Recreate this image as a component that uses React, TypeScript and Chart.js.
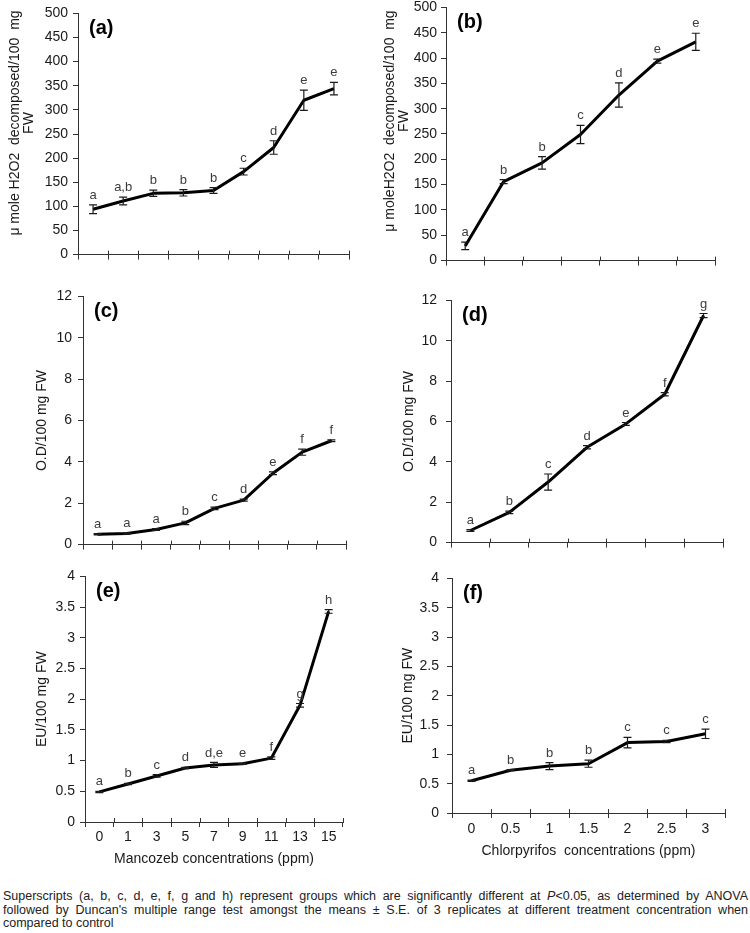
import React, { useEffect, useRef } from "react";
import { Chart, registerables } from "chart.js";

Chart.register(...registerables);

const FONT = '"Liberation Sans", Arial, Helvetica, sans-serif';

// ---- categories ----
const mancozebConc = ["0", "1", "3", "5", "7", "9", "11", "13", "15"];
const chlorpyrifosConc = ["0", "0.5", "1", "1.5", "2", "2.5", "3"];

// ---- (a) catalase, mancozeb ----
const catMancozeb = [94, 111, 127, 128, 133, 172, 222, 320, 344];
const catMancozebSE = [9, 8, 6.5, 6.5, 6, 7, 14, 21, 13];
const catMancozebGroups = ["a", "a,b", "b", "b", "b", "c", "d", "e", "e"];

// ---- (b) catalase, chlorpyrifos ----
const catChlor = [29, 156, 193, 249, 327, 394, 432];
const catChlorSE = [7.5, 4, 12.5, 18, 24, 4, 17];
const catChlorGroups = ["a", "b", "b", "c", "d", "e", "e"];

// ---- (c) O.D, mancozeb ----
const odMancozeb = [0.5, 0.54, 0.73, 1.05, 1.75, 2.15, 3.45, 4.47, 5.02];
const odMancozebSE = [0.03, 0.03, 0.04, 0.08, 0.06, 0.05, 0.07, 0.15, 0.04];
const odMancozebGroups = ["a", "a", "a", "b", "c", "d", "e", "f", "f"];

// ---- (d) O.D, chlorpyrifos ----
const odChlor = [0.6, 1.5, 3.0, 4.72, 5.88, 7.35, 11.25];
const odChlor_SE = [0.04, 0.06, 0.4, 0.08, 0.07, 0.08, 0.1];
const odChlorGroups = ["a", "b", "c", "d", "e", "f", "g"];

// ---- (e) EU, mancozeb ----
const euMancozeb = [0.49, 0.62, 0.75, 0.88, 0.93, 0.95, 1.04, 1.9, 3.43];
const euMancozebSE = [0.01, 0.01, 0.02, 0.01, 0.04, 0.01, 0.02, 0.03, 0.03];
const euMancozebGroups = ["a", "b", "c", "d", "d,e", "e", "f", "g", "h"];

// ---- (f) EU, chlorpyrifos ----
const euChlor = [0.55, 0.73, 0.8, 0.84, 1.2, 1.22, 1.35];
const euChlorSE = [0.01, 0.01, 0.06, 0.06, 0.09, 0.02, 0.08];
const euChlorGroups = ["a", "b", "b", "b", "c", "c", "c"];

// ---- axis ranges / titles ----
const catTicks = { min: 0, max: 500, step: 50 };
const odTicks = { min: 0, max: 12, step: 2 };
const euTicks = { min: 0, max: 4, step: 0.5 };

const titleA = ["μ mole H2O2  decomposed/100  mg", "FW"];
const titleB = ["μ moleH2O2  decomposed/100  mg", "FW"];
const titleOD = ["O.D/100 mg FW"];
const titleEU = ["EU/100 mg FW"];
const xTitleMancozeb = "Mancozeb concentrations (ppm)";
const xTitleChlor = "Chlorpyrifos  concentrations (ppm)";

type Panel = {
  key: string;
  left: number;
  top: number;
  width: number;
  height: number;
  axisW: number;
  axisH: number;
  labels: string[];
  values: number[];
  se: number[];
  groups: string[];
  range: { min: number; max: number; step: number };
  yTitle: string[];
  yTitleX: number;
  yTitleDy: number;
  yTickPad: number;
  showX: boolean;
  xTitle?: string;
  xTickPad?: number;
  panel: string;
};

const panels: Panel[] = [
  {
    key: "a", left: 0, top: 0, width: 359, height: 268, axisW: 78, axisH: 10,
    labels: mancozebConc, values: catMancozeb, se: catMancozebSE, groups: catMancozebGroups,
    range: catTicks, yTitle: titleA, yTitleX: 15, yTitleDy: -11, yTickPad: 5, showX: false, panel: "(a)",
  },
  {
    key: "b", left: 375, top: -5, width: 350, height: 278, axisW: 71, axisH: 10,
    labels: chlorpyrifosConc, values: catChlor, se: catChlorSE, groups: catChlorGroups,
    range: catTicks, yTitle: titleB, yTitleX: 15, yTitleDy: -13, yTickPad: 4, showX: false, panel: "(b)",
  },
  {
    key: "c", left: 0, top: 282, width: 356, height: 277, axisW: 83, axisH: 10,
    labels: mancozebConc, values: odMancozeb, se: odMancozebSE, groups: odMancozebGroups,
    range: odTicks, yTitle: titleOD, yTitleX: 42, yTitleDy: 0, yTickPad: 6, showX: false, panel: "(c)",
  },
  {
    key: "d", left: 375, top: 283, width: 358, height: 277, axisW: 76, axisH: 10,
    labels: chlorpyrifosConc, values: odChlor, se: odChlor_SE, groups: odChlorGroups,
    range: odTicks, yTitle: titleOD, yTitleX: 34, yTitleDy: 0, yTickPad: 9, showX: false, panel: "(d)",
  },
  {
    key: "e", left: 0, top: 563, width: 353, height: 305, axisW: 85, axisH: 46,
    labels: mancozebConc, values: euMancozeb, se: euMancozebSE, groups: euMancozebGroups,
    range: euTicks, yTitle: titleEU, yTitleX: 42, yTitleDy: 0, yTickPad: 5, showX: true,
    xTitle: xTitleMancozeb, xTickPad: 2, panel: "(e)",
  },
  {
    key: "f", left: 375, top: 562, width: 360, height: 298, axisW: 77, axisH: 47,
    labels: chlorpyrifosConc, values: euChlor, se: euChlorSE, groups: euChlorGroups,
    range: euTicks, yTitle: titleEU, yTitleX: 33, yTitleDy: 0, yTickPad: 8, showX: true,
    xTitle: xTitleChlor, xTickPad: 3, panel: "(f)",
  },
];

const marksPlugin = {
  id: "panelMarks",
  afterDatasetsDraw(chart: any, _args: any, opts: any) {
    const ctx = chart.ctx;
    const ys = chart.scales.y;
    const xs = chart.scales.x;
    const meta = chart.getDatasetMeta(0);
    const values = chart.data.datasets[0].data as number[];
    const area = chart.chartArea;
    ctx.save();

    // inner half of the x tick marks (crossing the axis)
    const n = chart.data.labels.length;
    const step = (xs.right - xs.left) / n;
    ctx.strokeStyle = "#333";
    ctx.lineWidth = 1;
    ctx.beginPath();
    for (let i = 0; i <= n; i++) {
      const gx = Math.round(xs.left + i * step) + 0.5;
      ctx.moveTo(gx, area.bottom - 4);
      ctx.lineTo(gx, area.bottom);
    }
    ctx.stroke();

    // error bars
    ctx.strokeStyle = "#1a1a1a";
    ctx.lineWidth = 1.2;
    meta.data.forEach((pt: any, i: number) => {
      const v = values[i];
      const e = opts.se[i];
      const top = ys.getPixelForValue(v + e);
      const bot = ys.getPixelForValue(v - e);
      ctx.beginPath();
      ctx.moveTo(pt.x, top);
      ctx.lineTo(pt.x, bot);
      ctx.moveTo(pt.x - 4, top);
      ctx.lineTo(pt.x + 4, top);
      ctx.moveTo(pt.x - 4, bot);
      ctx.lineTo(pt.x + 4, bot);
      ctx.stroke();
    });

    // group letters
    ctx.fillStyle = "#3c3c3c";
    ctx.font = `13px ${FONT}`;
    ctx.textAlign = "center";
    ctx.textBaseline = "bottom";
    meta.data.forEach((pt: any, i: number) => {
      const top = ys.getPixelForValue(values[i] + opts.se[i]);
      ctx.fillText(opts.groups[i], pt.x, top - 3);
    });

    // panel label
    ctx.fillStyle = "#000";
    ctx.font = `bold 20px ${FONT}`;
    ctx.textAlign = "left";
    ctx.textBaseline = "top";
    ctx.fillText(opts.panel, area.left + 11, area.top + 5);

    // y title
    ctx.fillStyle = "#1a1a1a";
    ctx.font = `14px ${FONT}`;
    ctx.textAlign = "center";
    ctx.textBaseline = "middle";
    ctx.translate(opts.titleX, (area.top + area.bottom) / 2 + opts.titleDy);
    ctx.rotate(-Math.PI / 2);
    (opts.title as string[]).forEach((line, i) => {
      ctx.fillText(line, 0, i * 14);
    });
    ctx.restore();
  },
};

function PanelChart({ p }: { p: Panel }) {
  const ref = useRef<HTMLCanvasElement | null>(null);
  useEffect(() => {
    if (!ref.current) return;
    const chart = new Chart(ref.current, {
      type: "line",
      data: {
        labels: p.labels,
        datasets: [
          {
            data: p.values,
            borderColor: "#000",
            borderWidth: 3,
            pointRadius: 0,
            tension: 0,
            fill: false,
            borderJoinStyle: "round",
          },
        ],
      },
      options: {
        animation: false,
        responsive: false,
        maintainAspectRatio: false,
        devicePixelRatio: 1,
        events: [],
        layout: { padding: { top: 12, right: 10, bottom: 0, left: 0 } },
        plugins: {
          legend: { display: false },
          tooltip: { enabled: false },
          panelMarks: {
            se: p.se,
            groups: p.groups,
            panel: p.panel,
            title: p.yTitle,
            titleX: p.yTitleX,
            titleDy: p.yTitleDy,
          },
        } as any,
        scales: {
          x: {
            type: "category",
            offset: true,
            grid: {
              display: true,
              drawOnChartArea: false,
              drawTicks: true,
              tickLength: 5,
              offset: true,
              color: "#333",
            },
            border: { display: true, color: "#333", width: 1 },
            ticks: {
              display: p.showX,
              color: "#1a1a1a",
              font: { family: FONT, size: 14 },
              padding: p.xTickPad ?? 2,
              autoSkip: false,
              maxRotation: 0,
            },
            title: {
              display: !!p.xTitle,
              text: p.xTitle || "",
              color: "#1a1a1a",
              font: { family: FONT, size: 14, lineHeight: 1 },
              padding: { top: 0, bottom: 2 },
            },
            afterFit: (s: any) => {
              s.height = p.axisH;
            },
          },
          y: {
            min: p.range.min,
            max: p.range.max,
            ticks: {
              stepSize: p.range.step,
              color: "#1a1a1a",
              font: { family: FONT, size: 14 },
              padding: p.yTickPad,
              callback: (v: any) => String(Number(v)),
            },
            grid: {
              display: true,
              drawOnChartArea: false,
              drawTicks: true,
              tickLength: 5,
              color: "#333",
            },
            border: { display: true, color: "#333", width: 1 },
            afterFit: (s: any) => {
              s.width = p.axisW;
            },
          },
        },
      },
      plugins: [marksPlugin],
    } as any);
    return () => chart.destroy();
  }, [p]);
  return (
    <canvas
      ref={ref}
      width={p.width}
      height={p.height}
      style={{
        position: "absolute",
        left: p.left,
        top: p.top,
        width: p.width,
        height: p.height,
        display: "block",
      }}
    />
  );
}

export default function App() {
  return (
    <div
      style={{
        position: "fixed",
        left: 0,
        top: 0,
        width: 750,
        height: 933,
        background: "#fff",
        overflow: "hidden",
        fontFamily: FONT,
      }}
    >
      {panels.map((p) => (
        <PanelChart key={p.key} p={p} />
      ))}
      <div
        style={{
          position: "absolute",
          left: 3,
          top: 890,
          width: 745,
          fontSize: 12.5,
          lineHeight: "13.5px",
          color: "#222",
        }}
      >
        <div style={{ textAlign: "justify", textAlignLast: "justify" }}>
          Superscripts (a, b, c, d, e, f, g and h) represent groups which are significantly different at{" "}
          <i>P</i>&lt;0.05, as determined by ANOVA
        </div>
        <div style={{ textAlign: "justify", textAlignLast: "justify" }}>
          followed by Duncan's multiple range test amongst the means ± S.E. of 3 replicates at different treatment
          concentration when
        </div>
        <div>compared to control</div>
      </div>
    </div>
  );
}
